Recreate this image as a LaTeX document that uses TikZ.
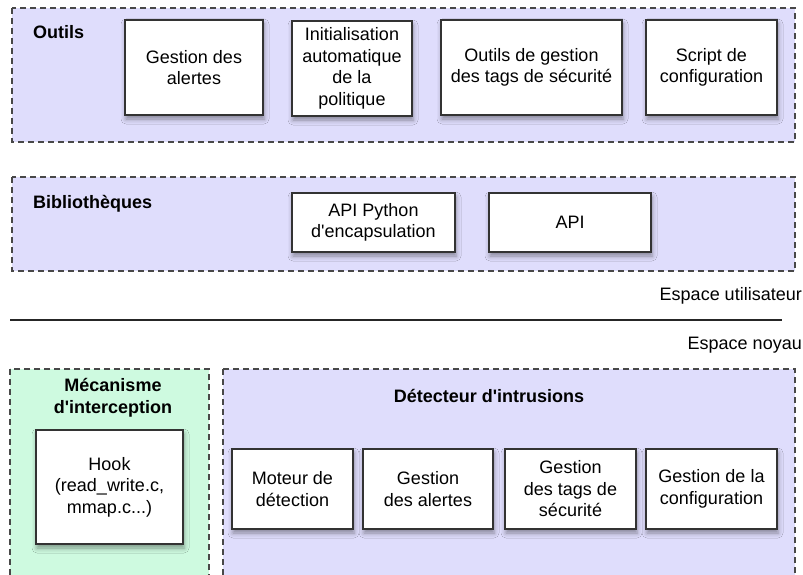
\documentclass[tikz,border=0pt]{standalone}
\usepackage{fontspec}
\setmainfont{Liberation Sans}
\usetikzlibrary{shadows.blur}

\definecolor{layerblue}{RGB}{223,221,252}
\definecolor{layergreen}{RGB}{206,250,224}
\definecolor{edgegray}{RGB}{72,72,72}
\newcommand{\apos}{\textquotesingle}

\tikzset{
  layer/.style={draw=edgegray, line width=1.2pt, dash pattern=on 6pt off 4pt, fill=layerblue},
  module/.style={draw=black!80, line width=1.3pt, fill=white, align=center, inner sep=0pt,
    blur shadow={shadow xshift=1pt, shadow yshift=-4pt, shadow blur radius=5pt, shadow opacity=40}},
  layertitle/.style={font=\fontsize{18}{22}\selectfont\bfseries, align=center, inner sep=0pt},
  spacelabel/.style={anchor=east, inner sep=0pt}
}

\begin{document}
\begin{tikzpicture}[x=1pt, y=-1pt, font=\fontsize{18}{21.5}\selectfont]
\useasboundingbox (0,0) rectangle (803,575);
\clip (0,0) rectangle (803,575);

% espace utilisateur
\draw[layer] (12,8) rectangle (795,142);
\node[layertitle, anchor=west] (outils) at (33,32) {Outils};
\node[module, minimum width=138pt, minimum height=95pt] (ualertes) at (194,67.5) {Gestion des\\alertes};
\node[module, minimum width=120pt, minimum height=95pt] (uinit) at (352,68.5) {Initialisation\\automatique\\de la\\politique};
\node[module, minimum width=181pt, minimum height=95pt] (utags) at (531.5,67.5) {Outils de gestion\\des tags de sécurité};
\node[module, minimum width=131pt, minimum height=95pt] (uscript) at (711.5,67.5) {Script de\\configuration};

\draw[layer] (12,177) rectangle (795,271);
\node[layertitle, anchor=west] (biblio) at (33,204) {Bibliothèques};
\node[module, minimum width=163pt, minimum height=59pt] (pyapi) at (373.5,222.5) {API Python\\d\apos encapsulation};
\node[module, minimum width=162pt, minimum height=59pt] (api) at (570,222.5) {API};

% separation
\node[spacelabel] (user) at (802,296) {Espace utilisateur};
\coordinate (sepl) at (10,320);
\coordinate (sepr) at (782,320);
\draw[line width=1.3pt, black!85] (sepl) -- (sepr);
\node[spacelabel] (kernel) at (802,345) {Espace noyau};

% espace noyau
\draw[layer, fill=layergreen] (10,369) rectangle (209,600);
\node[layertitle] (interc) at (113,398) {Mécanisme\\d\apos interception};
\node[module, minimum width=147pt, minimum height=114pt] (hook) at (109.5,487) {Hook\\(read\_write.c,\\mmap.c...)};

\draw[layer] (223,369) rectangle (795,600);
\node[layertitle] (detect) at (489,396) {Détecteur d\apos intrusions};
\node[module, minimum width=121pt, minimum height=80pt] (kmoteur) at (292.5,489) {Moteur de\\détection};
\node[module, minimum width=130pt, minimum height=80pt] (kalertes) at (428,489) {Gestion\\des alertes};
\node[module, minimum width=131pt, minimum height=80pt] (ktags) at (570.5,489) {Gestion\\des tags de\\sécurité};
\node[module, minimum width=131pt, minimum height=80pt] (kconf) at (711.5,489) {Gestion de la\\configuration};
\end{tikzpicture}
\end{document}
